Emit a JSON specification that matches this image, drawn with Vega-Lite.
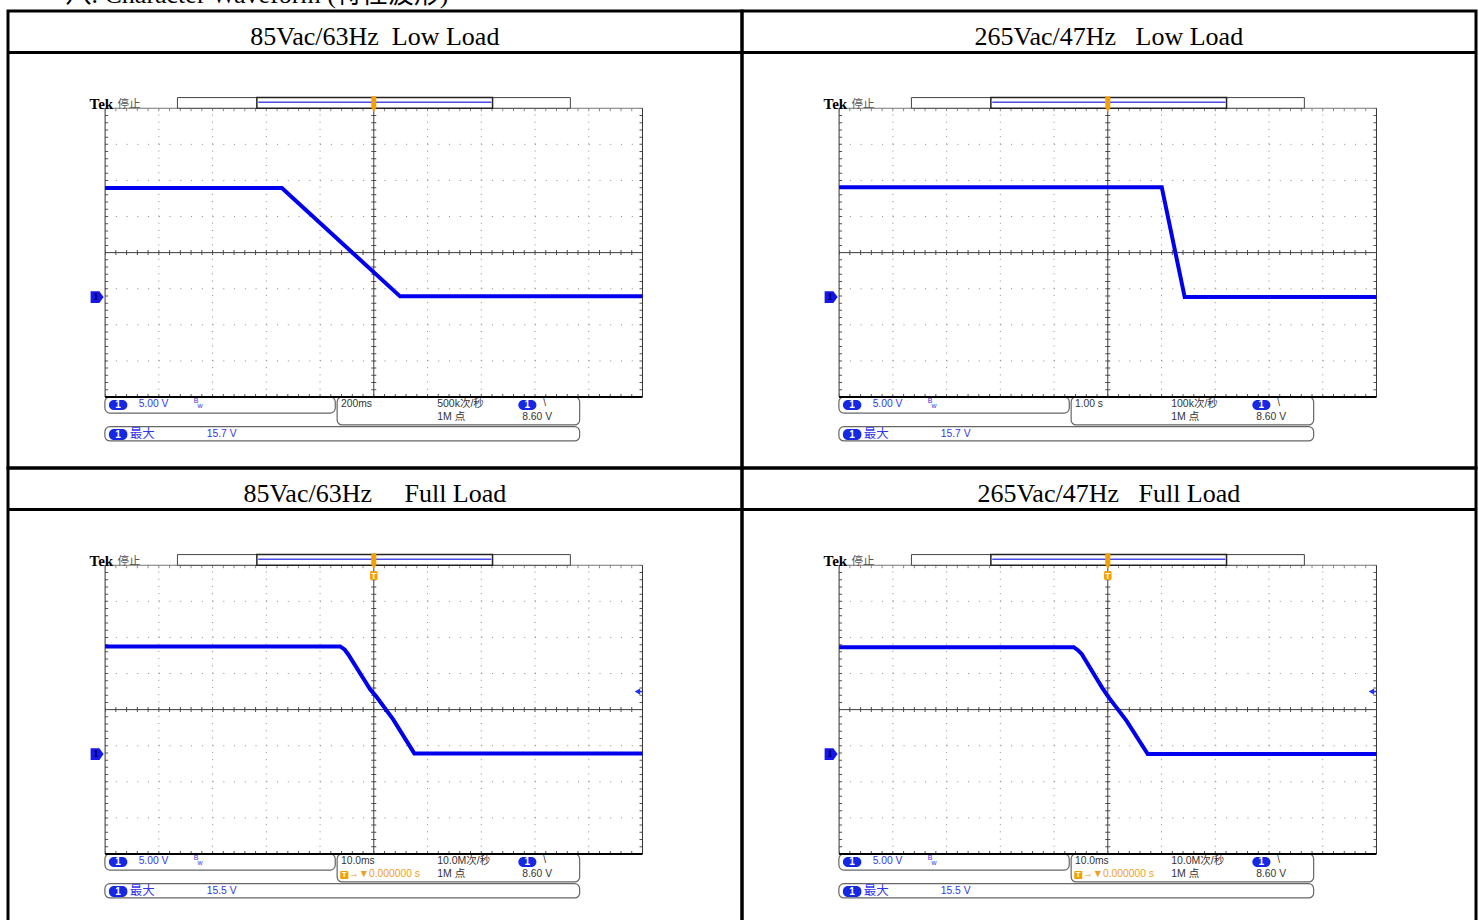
{
 "$schema": "https://vega.github.io/schema/vega-lite/v6.json",
 "background": "white",
 "padding": {"left": 5, "top": -20, "right": 0, "bottom": -5},
 "bounds": "flush",
 "data": {"values": [
  {"row":1,"col":1,"kind":"info","title":"85Vac/63Hz\u00a0\u00a0Low Load","tb":"200ms","rate":"500k次/秒","mx":"15.7 V","trg":"","top":"八. Character Waveform (特性波形)"},
  {"row":1,"col":2,"kind":"info","title":"265Vac/47Hz\u00a0\u00a0\u00a0Low Load","tb":"1.00 s","rate":"100k次/秒","mx":"15.7 V","trg":"","top":""},
  {"row":2,"col":1,"kind":"info","title":"85Vac/63Hz\u00a0\u00a0\u00a0\u00a0\u00a0Full Load","tb":"10.0ms","rate":"10.0M次/秒","mx":"15.5 V","trg":"→▼0.000000 s","top":""},
  {"row":2,"col":2,"kind":"info","title":"265Vac/47Hz\u00a0\u00a0\u00a0Full Load","tb":"10.0ms","rate":"10.0M次/秒","mx":"15.5 V","trg":"→▼0.000000 s","top":""},
  {"row":1,"col":1,"kind":"wave","t":0,"v":1.79},
  {"row":1,"col":1,"kind":"wave","t":3.29,"v":1.79},
  {"row":1,"col":1,"kind":"wave","t":5.489,"v":-1.212},
  {"row":1,"col":1,"kind":"wave","t":10,"v":-1.212},
  {"row":1,"col":2,"kind":"wave","t":0,"v":1.813},
  {"row":1,"col":2,"kind":"wave","t":6.004,"v":1.813},
  {"row":1,"col":2,"kind":"wave","t":6.431,"v":-1.232},
  {"row":1,"col":2,"kind":"wave","t":10,"v":-1.232},
  {"row":2,"col":1,"kind":"wave","t":0,"v":1.75},
  {"row":2,"col":1,"kind":"wave","t":4.376,"v":1.75},
  {"row":2,"col":1,"kind":"wave","t":4.46,"v":1.66},
  {"row":2,"col":1,"kind":"wave","t":4.525,"v":1.528},
  {"row":2,"col":1,"kind":"wave","t":4.935,"v":0.556},
  {"row":2,"col":1,"kind":"wave","t":5.047,"v":0.361},
  {"row":2,"col":1,"kind":"wave","t":5.363,"v":-0.278},
  {"row":2,"col":1,"kind":"wave","t":5.754,"v":-1.214},
  {"row":2,"col":1,"kind":"wave","t":10,"v":-1.214},
  {"row":2,"col":2,"kind":"wave","t":0,"v":1.731},
  {"row":2,"col":2,"kind":"wave","t":4.368,"v":1.731},
  {"row":2,"col":2,"kind":"wave","t":4.45,"v":1.64},
  {"row":2,"col":2,"kind":"wave","t":4.517,"v":1.537},
  {"row":2,"col":2,"kind":"wave","t":4.888,"v":0.623},
  {"row":2,"col":2,"kind":"wave","t":5.0,"v":0.374},
  {"row":2,"col":2,"kind":"wave","t":5.353,"v":-0.319},
  {"row":2,"col":2,"kind":"wave","t":5.743,"v":-1.233},
  {"row":2,"col":2,"kind":"wave","t":10,"v":-1.233}
 ]},
 "facet": {
  "row": {"field": "row", "type": "ordinal", "header": null},
  "column": {"field": "col", "type": "ordinal", "header": null}
 },
 "spacing": {"row": 0, "column": 0},
 "spec": {
  "width": 734,
  "height": 457,
  "layer": [
   {
    "transform": [{"filter": "datum.kind == 'info'"}],
    "layer": [
     {"mark":{"type":"rule","color":"#000","strokeWidth":3},"encoding":{"x":{"datum":-1.807},"x2":{"datum":11.852},"y":{"datum":5.544}}},
     {"mark":{"type":"text","font":"Liberation Serif","fontSize":26,"align":"center","baseline":"alphabetic","color":"#000"},"encoding":{"text":{"field":"title"},"x":{"datum":5.02},"y":{"datum":5.752}}},
     {"transform":[{"filter":"datum.top != ''"}],"mark":{"type":"text","font":"Liberation Serif, Noto Sans CJK SC","fontSize":26,"align":"left","baseline":"alphabetic","color":"#000"},"encoding":{"text":{"field":"top"},"x":{"datum":-0.737},"y":{"datum":6.908}}},

     {"mark":{"type":"rule","color":"#8c8c8c","strokeWidth":1,"strokeDash":[1,6.218]},"encoding":{"x":{"datum":1},"y":{"datum":-4},"y2":{"datum":4}}},
     {"mark":{"type":"rule","color":"#8c8c8c","strokeWidth":1,"strokeDash":[1,6.218]},"encoding":{"x":{"datum":2},"y":{"datum":-4},"y2":{"datum":4}}},
     {"mark":{"type":"rule","color":"#8c8c8c","strokeWidth":1,"strokeDash":[1,6.218]},"encoding":{"x":{"datum":3},"y":{"datum":-4},"y2":{"datum":4}}},
     {"mark":{"type":"rule","color":"#8c8c8c","strokeWidth":1,"strokeDash":[1,6.218]},"encoding":{"x":{"datum":4},"y":{"datum":-4},"y2":{"datum":4}}},
     {"mark":{"type":"rule","color":"#8c8c8c","strokeWidth":1,"strokeDash":[1,6.218]},"encoding":{"x":{"datum":6},"y":{"datum":-4},"y2":{"datum":4}}},
     {"mark":{"type":"rule","color":"#8c8c8c","strokeWidth":1,"strokeDash":[1,6.218]},"encoding":{"x":{"datum":7},"y":{"datum":-4},"y2":{"datum":4}}},
     {"mark":{"type":"rule","color":"#8c8c8c","strokeWidth":1,"strokeDash":[1,6.218]},"encoding":{"x":{"datum":8},"y":{"datum":-4},"y2":{"datum":4}}},
     {"mark":{"type":"rule","color":"#8c8c8c","strokeWidth":1,"strokeDash":[1,6.218]},"encoding":{"x":{"datum":9},"y":{"datum":-4},"y2":{"datum":4}}},
     {"mark":{"type":"rule","color":"#8c8c8c","strokeWidth":1,"strokeDash":[1,9.748]},"encoding":{"y":{"datum":-3},"x":{"datum":0},"x2":{"datum":10}}},
     {"mark":{"type":"rule","color":"#8c8c8c","strokeWidth":1,"strokeDash":[1,9.748]},"encoding":{"y":{"datum":-2},"x":{"datum":0},"x2":{"datum":10}}},
     {"mark":{"type":"rule","color":"#8c8c8c","strokeWidth":1,"strokeDash":[1,9.748]},"encoding":{"y":{"datum":-1},"x":{"datum":0},"x2":{"datum":10}}},
     {"mark":{"type":"rule","color":"#8c8c8c","strokeWidth":1,"strokeDash":[1,9.748]},"encoding":{"y":{"datum":1},"x":{"datum":0},"x2":{"datum":10}}},
     {"mark":{"type":"rule","color":"#8c8c8c","strokeWidth":1,"strokeDash":[1,9.748]},"encoding":{"y":{"datum":2},"x":{"datum":0},"x2":{"datum":10}}},
     {"mark":{"type":"rule","color":"#8c8c8c","strokeWidth":1,"strokeDash":[1,9.748]},"encoding":{"y":{"datum":3},"x":{"datum":0},"x2":{"datum":10}}},

     {"mark":{"type":"rule","color":"#3c3c3c","strokeWidth":1},"encoding":{"x":{"datum":5},"y":{"datum":-4},"y2":{"datum":4}}},
     {"mark":{"type":"rule","color":"#3c3c3c","strokeWidth":1},"encoding":{"y":{"datum":0},"x":{"datum":0},"x2":{"datum":10}}},
     {"mark":{"type":"rule","color":"#4a4a4a","strokeWidth":5,"strokeDash":[1,9.748],"strokeDashOffset":0.5},"encoding":{"y":{"datum":0},"x":{"datum":0},"x2":{"datum":10}}},
     {"mark":{"type":"rule","color":"#4a4a4a","strokeWidth":5,"strokeDash":[1,6.218],"strokeDashOffset":0.5},"encoding":{"x":{"datum":5},"y":{"datum":-4},"y2":{"datum":4}}},

     {"mark":{"type":"rule","color":"#888","strokeWidth":3,"strokeDash":[1,9.748],"strokeDashOffset":0.5},"encoding":{"y":{"datum":3.958},"x":{"datum":0},"x2":{"datum":10}}},
     {"mark":{"type":"rule","color":"#555","strokeWidth":3,"strokeDash":[1,9.748],"strokeDashOffset":0.5},"encoding":{"y":{"datum":-3.958},"x":{"datum":0},"x2":{"datum":10}}},
     {"mark":{"type":"rule","color":"#555","strokeWidth":3,"strokeDash":[1,6.218],"strokeDashOffset":0.5},"encoding":{"x":{"datum":0.028},"y":{"datum":-4},"y2":{"datum":4}}},
     {"mark":{"type":"rule","color":"#555","strokeWidth":3,"strokeDash":[1,6.218],"strokeDashOffset":0.5},"encoding":{"x":{"datum":9.972},"y":{"datum":-4},"y2":{"datum":4}}},

     {"mark":{"type":"rect","fill":"white","stroke":"#666","strokeWidth":1.2,"cornerRadius":5},"encoding":{"x":{"datum":-0.004},"x2":{"datum":4.283},"y":{"datum":-4.0},"y2":{"datum":-4.445}}},
     {"mark":{"type":"rect","fill":"white","stroke":"#666","strokeWidth":1.2,"cornerRadius":5},"encoding":{"x":{"datum":4.318},"x2":{"datum":8.831},"y":{"datum":-4.0},"y2":{"datum":-4.775}}},
     {"mark":{"type":"rect","fill":"white","stroke":"#666","strokeWidth":1.2,"cornerRadius":5},"encoding":{"x":{"datum":-0.004},"x2":{"datum":8.831},"y":{"datum":-4.822},"y2":{"datum":-5.218}}},

     {"mark":{"type":"rule","color":"#777","strokeWidth":1},"encoding":{"y":{"datum":4},"x":{"datum":0},"x2":{"datum":10}}},
     {"mark":{"type":"rule","color":"#333","strokeWidth":1},"encoding":{"x":{"datum":0},"y":{"datum":-4},"y2":{"datum":4}}},
     {"mark":{"type":"rule","color":"#333","strokeWidth":1},"encoding":{"x":{"datum":10},"y":{"datum":-4},"y2":{"datum":4}}},
     {"mark":{"type":"rule","color":"#000","strokeWidth":2.2},"encoding":{"y":{"datum":-4},"x":{"datum":0},"x2":{"datum":10}}},

     {"mark":{"type":"rect","fill":"white","stroke":"#444","strokeWidth":1},"encoding":{"x":{"datum":1.346},"x2":{"datum":8.658},"y":{"datum":4.0},"y2":{"datum":4.296}}},
     {"mark":{"type":"rect","fill":"white","stroke":"#222","strokeWidth":1.5},"encoding":{"x":{"datum":2.824},"x2":{"datum":7.21},"y":{"datum":4.0},"y2":{"datum":4.296}}},
     {"mark":{"type":"rule","color":"#4a4ae8","strokeWidth":1.5},"encoding":{"y":{"datum":4.166},"x":{"datum":2.85},"x2":{"datum":7.19}}},
     {"mark":{"type":"rule","color":"#f5a000","strokeWidth":5},"encoding":{"x":{"datum":5},"y":{"datum":4.02},"y2":{"datum":4.33}}},
     {"mark":{"type":"point","shape":"triangle-down","filled":true,"color":"#f5a000","opacity":1,"size":32},"encoding":{"x":{"datum":5},"y":{"datum":3.965}}},
     {"mark":{"type":"text","text":"Tek","font":"Liberation Serif","fontWeight":"bold","fontSize":15,"align":"left","baseline":"alphabetic","color":"#000"},"encoding":{"x":{"datum":-0.289},"y":{"datum":3.99}}},
     {"mark":{"type":"text","text":"停止","font":"Noto Sans CJK SC","fontSize":11.5,"align":"left","baseline":"alphabetic","color":"#555"},"encoding":{"x":{"datum":0.233},"y":{"datum":4.01}}},

     {"mark":{"type":"rect","fill":"#1428e6","cornerRadius":5},"encoding":{"x":{"datum":0.071},"x2":{"datum":0.414},"y":{"datum":-4.083},"y2":{"datum":-4.36}}},
     {"mark":{"type":"rect","fill":"#1428e6","cornerRadius":5},"encoding":{"x":{"datum":0.071},"x2":{"datum":0.414},"y":{"datum":-4.89},"y2":{"datum":-5.19}}},
     {"mark":{"type":"rect","fill":"#1428e6","cornerRadius":5},"encoding":{"x":{"datum":7.69},"x2":{"datum":8.026},"y":{"datum":-4.083},"y2":{"datum":-4.36}}},
     {"mark":{"type":"text","text":"1","font":"Liberation Sans","fontWeight":"bold","fontSize":10,"align":"center","baseline":"middle","color":"#fff"},"encoding":{"x":{"datum":0.242},"y":{"datum":-4.222}}},
     {"mark":{"type":"text","text":"1","font":"Liberation Sans","fontWeight":"bold","fontSize":10,"align":"center","baseline":"middle","color":"#fff"},"encoding":{"x":{"datum":0.242},"y":{"datum":-5.04}}},
     {"mark":{"type":"text","text":"1","font":"Liberation Sans","fontWeight":"bold","fontSize":10,"align":"center","baseline":"middle","color":"#fff"},"encoding":{"x":{"datum":7.858},"y":{"datum":-4.222}}},

     {"mark":{"type":"text","text":"5.00 V","fontSize":10.3,"align":"left","baseline":"middle","color":"#3535f0"},"encoding":{"x":{"datum":0.624},"y":{"datum":-4.208}}},
     {"mark":{"type":"text","text":"B","fontSize":7,"align":"left","baseline":"middle","color":"#3535f0"},"encoding":{"x":{"datum":1.65},"y":{"datum":-4.12}}},
     {"mark":{"type":"text","text":"w","fontSize":7,"align":"left","baseline":"middle","color":"#3535f0"},"encoding":{"x":{"datum":1.72},"y":{"datum":-4.26}}},
     {"mark":{"type":"text","fontSize":10.3,"align":"left","baseline":"middle","color":"#333"},"encoding":{"text":{"field":"tb"},"x":{"datum":4.389},"y":{"datum":-4.208}}},
     {"mark":{"type":"text","fontSize":10.5,"align":"left","baseline":"middle","color":"#333"},"encoding":{"text":{"field":"rate"},"x":{"datum":6.179},"y":{"datum":-4.208}}},
     {"mark":{"type":"text","text":"1M 点","fontSize":10.5,"align":"left","baseline":"middle","color":"#333"},"encoding":{"x":{"datum":6.179},"y":{"datum":-4.567}}},
     {"mark":{"type":"text","text":"\\","fontSize":10,"align":"left","baseline":"middle","color":"#333"},"encoding":{"x":{"datum":8.155},"y":{"datum":-4.17}}},
     {"mark":{"type":"text","text":"8.60 V","fontSize":10.3,"align":"left","baseline":"middle","color":"#333"},"encoding":{"x":{"datum":7.763},"y":{"datum":-4.567}}},
     {"mark":{"type":"text","text":"最大","font":"Noto Sans CJK SC","fontSize":12.5,"align":"left","baseline":"middle","color":"#3535f0"},"encoding":{"x":{"datum":0.457},"y":{"datum":-5.024}}},
     {"mark":{"type":"text","fontSize":10.3,"align":"left","baseline":"middle","color":"#3535f0"},"encoding":{"text":{"field":"mx"},"x":{"datum":1.892},"y":{"datum":-5.02}}},

     {"mark":{"type":"point","shape":"M-1,-0.9L0.35,-0.9L1,0L0.35,0.9L-1,0.9Z","filled":true,"color":"#1515ee","opacity":1,"size":169},"encoding":{"x":{"datum":-0.149},"y":{"datum":-1.232}}},
     {"mark":{"type":"text","text":"1","font":"Liberation Serif","fontWeight":"bold","fontSize":10,"align":"center","baseline":"middle","color":"#000030"},"encoding":{"x":{"datum":-0.17},"y":{"datum":-1.232}}},

     {"transform":[{"filter":"datum.trg != ''"}],
      "layer":[
       {"mark":{"type":"rect","fill":"#f5a000","cornerRadius":1},"encoding":{"x":{"datum":4.376},"x2":{"datum":4.525},"y":{"datum":-4.472},"y2":{"datum":-4.694}}},
       {"mark":{"type":"text","text":"T","font":"Liberation Sans","fontWeight":"bold","fontSize":8,"align":"center","baseline":"middle","color":"#fff"},"encoding":{"x":{"datum":4.45},"y":{"datum":-4.583}}},
       {"mark":{"type":"text","fontSize":10.3,"align":"left","baseline":"middle","color":"#f0a020"},"encoding":{"text":{"field":"trg"},"x":{"datum":4.53},"y":{"datum":-4.567}}},
       {"mark":{"type":"rect","fill":"#f5a000","cornerRadius":1.5},"encoding":{"x":{"datum":4.93},"x2":{"datum":5.07},"y":{"datum":3.59},"y2":{"datum":3.84}}},
       {"mark":{"type":"text","text":"T","font":"Liberation Sans","fontWeight":"bold","fontSize":9,"align":"center","baseline":"middle","color":"#fff"},"encoding":{"x":{"datum":5},"y":{"datum":3.715}}},
       {"mark":{"type":"rule","color":"#2030ff","strokeWidth":1.5},"encoding":{"y":{"datum":0.5},"x":{"datum":9.9},"x2":{"datum":10}}},
       {"mark":{"type":"point","shape":"triangle-left","filled":true,"color":"#2030ff","opacity":1,"size":40},"encoding":{"x":{"datum":9.905},"y":{"datum":0.5}}}
      ]
     }
    ]
   },
   {
    "transform": [{"filter": "datum.kind == 'wave'"}],
    "mark": {"type": "line", "color": "#0000ee", "strokeWidth": 4},
    "encoding": {
     "x": {"field": "t", "type": "quantitative", "scale": {"domain": [-1.807, 11.852], "nice": false, "zero": false}},
     "y": {"field": "v", "type": "quantitative", "scale": {"domain": [-5.968, 6.695], "nice": false, "zero": false}}
    }
   }
  ]
 },
 "config": {
  "view": {"stroke": "#000", "strokeWidth": 3},
  "axis": {"disable": true},
  "legend": {"disable": true},
  "header": {"labels": false, "title": null, "labelPadding": 0, "titlePadding": 0},
  "facet": {"spacing": 0},
  "text": {"font": "Liberation Sans, Noto Sans CJK SC"}
 }
}
